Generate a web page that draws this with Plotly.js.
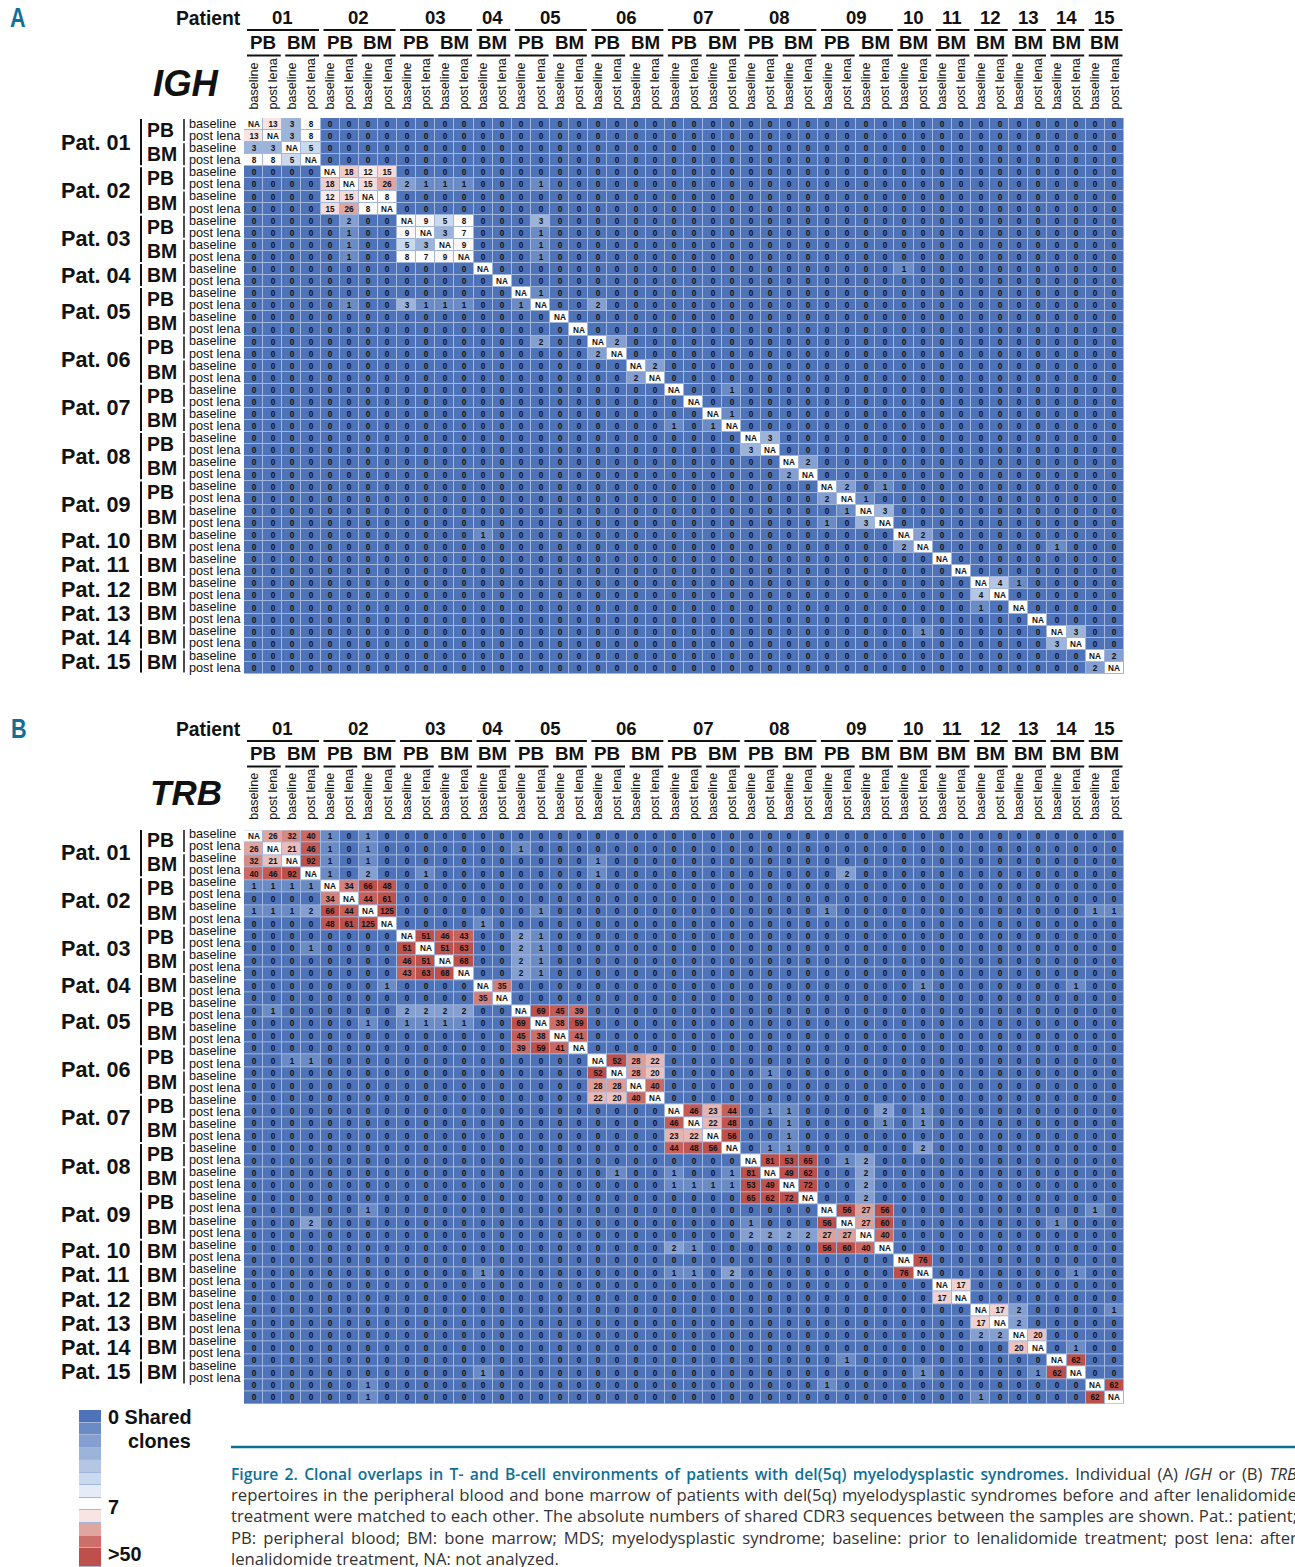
<!DOCTYPE html>
<html><head><meta charset="utf-8">
<script src="https://cdn.plot.ly/plotly-3.0.0.min.js"></script>
<style>html,body{margin:0;padding:0;background:#fff}#chart{width:1295px;height:1567px}</style>
</head><body><div id="chart"></div>
<script>
// ---------- data ----------
var patientIds = ['01','02','03','04','05','06','07','08','09','10','11','12','13','14','15'];
var patientTissues = [['PB','BM'],['PB','BM'],['PB','BM'],['BM'],['PB','BM'],['PB','BM'],['PB','BM'],['PB','BM'],['PB','BM'],['BM'],['BM'],['BM'],['BM'],['BM'],['BM']];
var timepoints = ['baseline','post lena'];
// shared clone counts: [sample index, sample index, count]; all other off-diagonal pairs are 0, the diagonal is NA
var ighShared = [
 [0,1,13],[0,2,3],[0,3,8],[1,2,3],[1,3,8],[2,3,5],
 [4,5,18],[4,6,12],[4,7,15],[5,6,15],[5,7,26],[6,7,8],
 [5,8,2],[5,9,1],[5,10,1],[5,11,1],[5,15,1],
 [8,9,9],[8,10,5],[8,11,8],[9,10,3],[9,11,7],[10,11,9],
 [8,15,3],[9,15,1],[10,15,1],[11,15,1],
 [14,15,1],[15,18,2],[18,19,2],[20,21,2],[12,34,1],[22,25,1],[24,25,1],
 [26,27,3],[28,29,2],[30,31,2],[30,33,1],[31,32,1],[32,33,3],
 [34,35,2],[35,42,1],[38,39,4],[38,40,1],[42,43,3],[44,45,2]
];
var trbShared = [
 [0,1,26],[0,2,32],[0,3,40],[1,2,21],[1,3,46],[2,3,92],
 [0,4,1],[0,6,1],[1,4,1],[1,6,1],[1,14,1],[2,4,1],[2,6,1],[2,18,1],[3,4,1],[3,6,2],[3,9,1],[3,18,1],[3,31,2],
 [4,5,34],[4,6,66],[4,7,48],[5,6,44],[5,7,61],[6,7,125],
 [6,15,1],[6,30,1],[6,44,1],[6,45,1],[7,12,1],
 [8,9,51],[8,10,46],[8,11,43],[9,10,51],[9,11,63],[10,11,68],
 [8,14,2],[8,15,1],[9,14,2],[9,15,1],[10,14,2],[10,15,1],[11,14,2],[11,15,1],
 [12,13,35],[12,35,1],[12,43,1],
 [14,15,69],[14,16,45],[14,17,39],[15,16,38],[15,17,59],[16,17,41],
 [18,19,52],[18,20,28],[18,21,22],[19,20,28],[19,21,20],[20,21,40],[19,27,1],
 [22,23,46],[22,24,23],[22,25,44],[23,24,22],[23,25,48],[24,25,56],
 [22,27,1],[22,28,1],[22,33,2],[22,35,1],[23,28,1],[23,33,1],[23,35,1],[24,28,1],[25,27,1],[25,28,1],[25,35,2],
 [26,27,81],[26,28,53],[26,29,65],[27,28,49],[27,29,62],[28,29,72],
 [26,31,1],[26,32,2],[27,32,2],[28,32,2],[29,32,2],
 [30,31,56],[30,32,27],[30,33,56],[31,32,27],[31,33,60],[32,33,40],[30,44,1],[31,42,1],
 [34,35,76],[35,43,1],[36,37,17],[38,39,17],[38,40,2],[39,40,2],[38,45,1],[40,41,20],[41,43,1],[42,43,62],[44,45,62]
];
var legendSteps = [0,1,2,3,4,5,6,7,13,26,38,50];
var legendLabels = ['0 Shared','clones','7','>50'];
var captionLines = [
 [{t:'Figure 2. Clonal overlaps in T- and B-cell environments of patients with del(5q) myelodysplastic syndromes.',b:1},{t:' Individual (A) '},{t:'IGH',i:1},{t:' or (B) '},{t:'TRB',i:1}],
 [{t:'repertoires in the peripheral blood and bone marrow of patients with del(5q) myelodysplastic syndromes before and after lenalidomide'}],
 [{t:'treatment were matched to each other. The absolute numbers of shared CDR3 sequences between the samples are shown. Pat.: patient;'}],
 [{t:'PB: peripheral blood; BM: bone marrow; MDS; myelodysplastic syndrome; baseline: prior to lenalidomide treatment; post lena: after'}],
 [{t:'lenalidomide treatment, NA: not analyzed.'}]
];

// ---------- helpers ----------
var W = 1295, H = 1567;
var SANS = '"Liberation Sans", Arial, sans-serif';
var TEAL = '#0E7096';
var colorscale = [[0,'#4F73B9'],[0.02,'#6B8BC5'],[0.06,'#9CB3DA'],[0.10,'#CBD9EE'],[0.14,'#FFFFFF'],[0.16,'#FEFBFB'],[0.26,'#F8E4E3'],[0.52,'#DFA5A1'],[0.76,'#CC6F6A'],[1,'#BE504C']];
function fx(x){return x/W;} function fy(y){return 1-y/H;}

var samples = [], patientSpans = [], tissueSpans = [];
patientIds.forEach(function(id,p){
  var start = samples.length;
  patientTissues[p].forEach(function(ts){
    var s0 = samples.length;
    timepoints.forEach(function(tp){samples.push(tp);});
    tissueSpans.push({name:ts,a:s0,b:samples.length});
  });
  patientSpans.push({name:id,a:start,b:samples.length});
});
var N = samples.length, idx = samples.map(function(_,i){return i;});

function matrix(list){
  var z = idx.map(function(r){return idx.map(function(c){return r===c?null:0;});});
  list.forEach(function(e){z[e[0]][e[1]]=e[2]; z[e[1]][e[0]]=e[2];});
  return z;
}
function heat(list,xa,ya){
  var m = matrix(list);
  return {type:'heatmap',xaxis:xa,yaxis:ya,x:idx,y:idx,
    z:m.map(function(r){return r.map(function(v){return v===null?7:v;});}),
    text:m.map(function(r){return r.map(function(v){return v===null?'NA':String(v);});}),
    texttemplate:'%{text}',textfont:{family:SANS,size:8.2,color:'#111',weight:700},
    colorscale:colorscale,zmin:0,zmax:50,showscale:false,xgap:1,ygap:1,hoverinfo:'skip'};
}
var legendEdges = legendSteps.map(function(_,i){return i;}).concat([12.5]);
var legendTrace = {type:'heatmap',xaxis:'x3',yaxis:'y3',x:[0,1],y:legendEdges,
  z:legendSteps.map(function(v){return [v];}),colorscale:colorscale,zmin:0,zmax:50,showscale:false,ygap:1,hoverinfo:'skip'};

var GX0 = 244, GX1 = 1124, CW = (GX1-GX0)/N;
function axisX(standoff,anchor){
  return {domain:[fx(GX0),fx(GX1)],range:[-0.5,N-0.5],side:'top',anchor:anchor,showgrid:false,zeroline:false,
    tickmode:'array',tickvals:idx,ticktext:samples,tickangle:-90,ticks:'outside',ticklen:standoff,tickcolor:'rgba(0,0,0,0)',
    tickfont:{family:SANS,size:12.6,color:'#111'},showline:false};
}
function axisY(top,bottom,anchor){
  return {domain:[fy(bottom),fy(top)],range:[N-0.5,-0.5],anchor:anchor,showgrid:false,zeroline:false,showticklabels:false,ticks:''};
}

var annotations = [], shapes = [];
function txt(x,y,t,size,o){
  o = o||{};
  annotations.push({xref:'paper',yref:'paper',x:fx(x),y:fy(y),text:t,showarrow:false,borderpad:0,borderwidth:0,
    xanchor:o.anchor||'left',yanchor:'middle',align:o.anchor||'left',
    font:{family:o.family||SANS,size:size,color:o.color||'#111',weight:o.weight||700,style:o.style||'normal'}});
}
function line(x0,y0,x1,y1,w,c){
  shapes.push({type:'line',xref:'paper',yref:'paper',x0:fx(x0),y0:fy(y0),x1:fx(x1),y1:fy(y1),line:{color:c||'#111',width:w}});
}

function panelHeader(dy,name,nameSize,nameY){
  txt(176,18+dy,'Patient',19.3);
  txt(185.5,nameY,name,nameSize,{anchor:'center',style:'italic'});
  patientSpans.forEach(function(s){
    var a = GX0+s.a*CW, b = GX0+s.b*CW;
    txt((a+b)/2,17.5+dy,s.name,18.6,{anchor:'center'});
    line(a+3,30+dy,b-1.5,30+dy,2);
  });
  tissueSpans.forEach(function(s){
    var a = GX0+s.a*CW, b = GX0+s.b*CW;
    txt((a+b)/2,43+dy,s.name,18.8,{anchor:'center'});
    line(a+3,55.5+dy,b-1.5,55.5+dy,1.8);
  });
}
function rowLabels(dy,barDy){
  var top = 118+dy, sp = 12.08;
  function y(i){return top+6+i*sp;}
  samples.forEach(function(s,i){ txt(189,y(i),s,12.7,{weight:400}); });
  patientSpans.forEach(function(s){
    txt(61,(y(s.a)+y(s.b-1))/2,'Pat. '+s.name,21.6);
    line(141,y(s.a)-5+barDy,141,y(s.b-1)+5+barDy,2);
  });
  tissueSpans.forEach(function(s){
    txt(147,(y(s.a)+y(s.b-1))/2,s.name,19.4);
    line(184,y(s.a)-5+barDy,184,y(s.b-1)+5+barDy,1.5);
  });
}
panelHeader(0,'IGH',36.5,83);
panelHeader(711,'TRB',35,792);
rowLabels(0,0);
rowLabels(710,1);

var LETTER_FONT = '"Liberation Sans"';
txt(10,18,'A',27,{family:LETTER_FONT,color:TEAL});
txt(10.5,729,'B',27,{family:LETTER_FONT,color:TEAL});

// legend labels
txt(108,1417,legendLabels[0],19.8);
txt(128,1441,legendLabels[1],19.8);
txt(108,1507,legendLabels[2],19.8);
txt(108,1554,legendLabels[3],19.8);

// caption
line(231,1447,1295,1447,2.4,TEAL);
var CAP_FONT = '"Open Sans"', CAP_SIZE = 16.7, CAP_BOLD_SIZE = 15.7, CAP_X0 = 231, CAP_X1 = 1297;
var ctx = document.createElement('canvas').getContext('2d');
function segWidth(s){
  ctx.font = (s.i?'italic ':'')+(s.b?'600 '+CAP_BOLD_SIZE:'400 '+CAP_SIZE)+'px '+CAP_FONT;
  return ctx.measureText(s.t).width;
}
var capY = [1473,1494,1515,1537,1558];
function drawCaption(){
  captionLines.forEach(function(segs,i){
    var width = 0, spaces = 0;
    segs.forEach(function(s){width += segWidth(s); spaces += (s.t.match(/ /g)||[]).length;});
    var extra = (i < captionLines.length-1) ? (CAP_X1-CAP_X0-width)/spaces : 0;
    var html = segs.map(function(s){
      var st = 'word-spacing:'+extra.toFixed(2)+'px;';
      if(s.b) st += 'font-weight:600;font-size:'+CAP_BOLD_SIZE+'px;fill:'+TEAL+';';
      if(s.i) st += 'font-style:italic;';
      return '<span style="'+st+'">'+s.t+'</span>';
    }).join('');
    txt(CAP_X0,capY[i],html,CAP_SIZE,{family:CAP_FONT,weight:400,color:'#333'});
  });
}

var layout = {width:W,height:H,autosize:false,margin:{l:0,r:0,t:0,b:0},paper_bgcolor:'#fff',plot_bgcolor:'#A3B7DC',showlegend:false,hovermode:false,
  xaxis:axisX(5,'y'),yaxis:axisY(118,674,'x'),
  xaxis2:axisX(7,'y2'),yaxis2:axisY(830.3,1404,'x2'),
  xaxis3:{domain:[fx(79),fx(101)],range:[0,1],anchor:'y3',visible:false},
  yaxis3:{domain:[fy(1567),fy(1410)],range:[12.5,0],anchor:'x3',visible:false},
  annotations:annotations,shapes:shapes};
var traces = [heat(ighShared,'x','y'),heat(trbShared,'x2','y2'),legendTrace];
function narrowLetters(){
  // the panel letters are set in a condensed face in the reference
  document.querySelectorAll('#chart .annotation-text').forEach(function(el){
    var t = el.textContent;
    if(t==='A'||t==='B'){
      var x = parseFloat(el.getAttribute('x'))||0;
      el.setAttribute('transform','translate('+x+',0) scale(0.8,1) translate('+(-x)+',0)');
    }
  });
}
function go(){
  drawCaption();
  Plotly.newPlot('chart',traces,layout,{staticPlot:true,displayModeBar:false}).then(narrowLetters);
}
if(document.fonts && document.fonts.load){
  Promise.all([document.fonts.load('400 16px "Open Sans"'),document.fonts.load('600 16px "Open Sans"')]).then(go,go);
}else{ go(); }
</script>
</body></html>
